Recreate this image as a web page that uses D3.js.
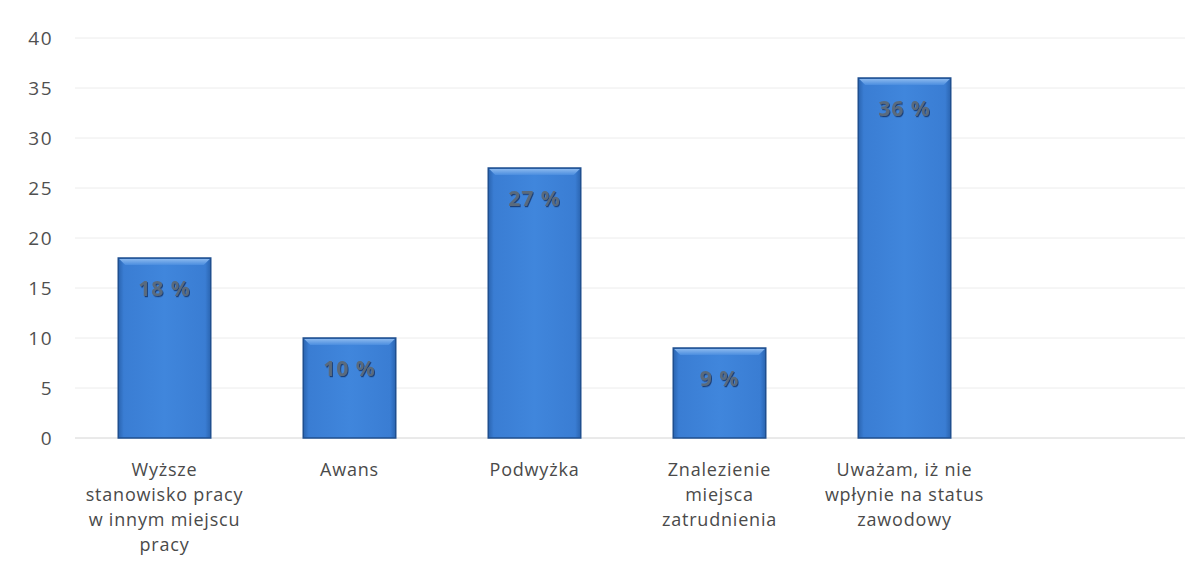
<!DOCTYPE html>
<html><head><meta charset="utf-8">
<script src="https://cdn.jsdelivr.net/npm/d3@7"></script>
<style>body{margin:0;background:#fff;} text{font-family:"Open Sans","Noto Sans",sans-serif;}</style>
</head><body>
<svg id="c" width="1200" height="584"></svg>
<script>
const categories = [["Wyższe","stanowisko pracy","w innym miejscu","pracy"],["Awans"],["Podwyżka"],["Znalezienie","miejsca","zatrudnienia"],["Uważam, iż nie","wpłynie na status","zawodowy"],[]];
const values = [18, 10, 27, 9, 36, null];
const labels = ["18 %","10 %","27 %","9 %","36 %",""];
const yTicks = [0,5,10,15,20,25,30,35,40];

const svg = d3.select("#c");
const x = d3.scaleBand().domain(d3.range(categories.length)).range([72,1182]).paddingInner(0.5).paddingOuter(0.25);
const y = d3.scaleLinear().domain([0,40]).range([438,38]);

const defs = svg.append("defs");
const g1 = defs.append("linearGradient").attr("id","hg").attr("x1","0").attr("x2","1").attr("y1","0").attr("y2","0");
g1.append("stop").attr("offset","0").attr("stop-color","#2a64b0");
g1.append("stop").attr("offset","0.06").attr("stop-color","#3a7dd3");
g1.append("stop").attr("offset","0.5").attr("stop-color","#4086dc");
g1.append("stop").attr("offset","0.94").attr("stop-color","#3a7dd3");
g1.append("stop").attr("offset","1").attr("stop-color","#2a64b0");
const g2 = defs.append("linearGradient").attr("id","tg").attr("x1","0").attr("x2","0").attr("y1","0").attr("y2","1");
g2.append("stop").attr("offset","0").attr("stop-color","#8ab8ee");
g2.append("stop").attr("offset","1").attr("stop-color","#4a8ddf");
const f = defs.append("filter").attr("id","sh").attr("x","-20%").attr("y","-20%").attr("width","140%").attr("height","140%");
f.append("feDropShadow").attr("dx",1).attr("dy",1.2).attr("stdDeviation",0.7).attr("flood-color","#0d2c57").attr("flood-opacity",0.75);

// gridlines
svg.append("g").selectAll("line").data(yTicks).join("line")
  .attr("x1",75).attr("x2",1185).attr("y1",d=>y(d)).attr("y2",d=>y(d))
  .attr("stroke",d=>d===0?"#d4d4d4":"#ececec").attr("stroke-width",1);

// y axis
const ya = svg.append("g").attr("transform","translate(53,0)")
  .call(d3.axisLeft(y).tickValues(yTicks).tickSize(0).tickPadding(0));
ya.select(".domain").remove();
ya.selectAll("text").attr("font-size",19).attr("letter-spacing",1.5).attr("fill","#505050").attr("font-family","Open Sans, sans-serif");

const data = values.map((v,i)=>({i,v,l:labels[i]})).filter(d=>d.v!=null);
const bars = svg.append("g").selectAll("g").data(data).join("g");
bars.append("rect").attr("x",d=>x(d.i)).attr("y",d=>y(d.v)).attr("width",x.bandwidth()).attr("height",d=>y(0)-y(d.v))
  .attr("fill","url(#hg)").attr("stroke","#1f4f8f").attr("stroke-width",1.5);
// bevel top
bars.append("path").attr("d",d=>{const x0=x(d.i)+1,x1=x(d.i)+x.bandwidth()-1,t=y(d.v)+1;return `M${x0},${t}L${x1},${t}L${x1-6},${t+6}L${x0+6},${t+6}Z`;})
  .attr("fill","url(#tg)");
bars.append("text").attr("x",d=>x(d.i)+x.bandwidth()/2).attr("y",d=>y(d.v)+38)
  .attr("text-anchor","middle").attr("font-size",21).attr("font-weight","bold").attr("letter-spacing",1).attr("fill","#5a6b7c")
  .attr("filter","url(#sh)").text(d=>d.l);

// x labels
const xl = svg.append("g").selectAll("text").data(categories.map((c,i)=>({c,i}))).join("text")
  .attr("text-anchor","middle").attr("font-size",18).attr("letter-spacing",0.8).attr("fill","#4a4a4a")
  .attr("x",d=>x(d.i)+x.bandwidth()/2).attr("y",476);
xl.selectAll("tspan").data(d=>d.c).join("tspan").attr("x",function(){return d3.select(this.parentNode).attr("x");})
  .attr("dy",(d,j)=>j===0?0:25).text(d=>d);
</script>
</body></html>
